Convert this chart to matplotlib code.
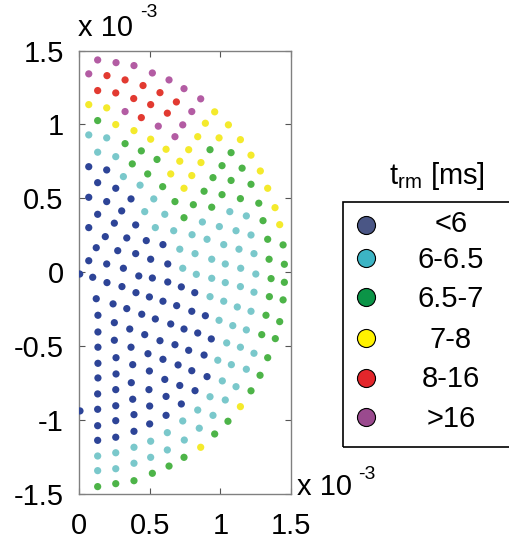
import matplotlib
matplotlib.use("Agg")
import matplotlib.pyplot as plt
from matplotlib.lines import Line2D
from matplotlib.patches import Rectangle

plt.rcParams['font.family'] = ['Liberation Sans', 'DejaVu Sans']
plt.rcParams['mathtext.fontset'] = 'custom'
plt.rcParams['mathtext.rm'] = 'Liberation Sans'
plt.rcParams['mathtext.it'] = 'Liberation Sans'

# reverberation-time classes
categories = ['<6', '6-6.5', '6.5-7', '7-8', '8-16', '>16']

# receiver positions (units of 1e-3), grouped by t_rm class
x_lt6 = [0.069, 0.196, 0.132, 0.260, 0.069, 0.196, 0.368, 0.132, 0.302, 0.069, 0.250, 0.401,
         0.186, 0.338, 0.476, 0.122, 0.274, 0.401, 0.507, 0.069, 0.196, 0.314, 0.005, 0.097,
         0.423, 0.519,
         0.594, 0.628, 0.628, 0.724, 0.819,
         0.198, 0.304, 0.122, 0.241, 0.403, 0.498, 0.338, 0.444, 0.540, 0.134, 0.250, 0.359,
         0.465, 0.134, 0.250, 0.368, 0.488, 0.134, 0.262, 0.380, 0.498, 0.134, 0.262, 0.134,
         0.594, 0.691, 0.798, 0.894, 0.649, 0.743, 0.840, 0.936, 0.573, 0.679, 0.776, 0.885,
         0.594, 0.701, 0.798, 0.906, 0.607, 0.713, 0.821, 0.616,
         0.724, 0.616,
         0.370, 0.260, 0.495, 0.132, 0.380, 0.007, 0.132, 0.260, 0.500, 0.389, 0.132, 0.260,
         0.500, 0.389, 0.132, 0.260]
y_lt6 = [0.714, 0.692, 0.606, 0.568, 0.507, 0.478, 0.496, 0.392, 0.415, 0.302, 0.332, 0.320,
         0.241, 0.232, 0.214, 0.166, 0.146, 0.126, 0.088, 0.078, 0.056, 0.027, -0.012, -0.034,
         -0.025, -0.039,
         0.187, 0.056, -0.066, -0.099, -0.138,
         -0.070, -0.097, -0.179, -0.214, -0.138, -0.167, -0.246, -0.284, -0.316, -0.291, -0.341, -0.384,
         -0.422, -0.404, -0.460, -0.507, -0.551, -0.507, -0.578, -0.625, -0.668, -0.616, -0.688, -0.715,
         -0.196, -0.226, -0.264, -0.294, -0.350, -0.384, -0.411, -0.451, -0.463, -0.490, -0.528, -0.560,
         -0.589, -0.627, -0.666, -0.706, -0.725, -0.766, -0.801, -0.840,
         -0.891, -0.968,
         -0.747, -0.794, -0.794, -0.823, -0.859, -0.938, -0.927, -0.903, -0.905, -0.963, -1.038, -1.004,
         -1.026, -1.076, -1.137, -1.116]

x_6_65 = [0.069, 0.196, 0.132, 0.260, 0.314, 0.432, 0.529, 0.465, 0.540, 0.607, 0.873, 1.067,
          1.184, 0.670, 0.800, 0.993, 1.111, 1.217, 0.713, 0.906, 1.024, 1.132, 1.238, 0.821,
          0.939, 0.734, 1.035, 1.144, 1.251, 0.830, 0.939, 1.035, 1.142, 0.927, 1.238, 1.024,
          1.120, 0.991, 1.088, 1.217, 1.045, 1.184, 0.982, 1.142, 1.238, 1.078, 1.184, 1.014,
          1.111, 0.927, 1.035, 0.840, 0.948, 0.734, 0.851, 0.625, 0.745, 0.625,
          0.507, 0.389, 0.132, 0.260, 0.507, 0.389, 0.132, 0.260]
y_6_65 = [0.929, 0.909, 0.812, 0.782, 0.647, 0.589, 0.496, 0.410, 0.302, 0.392, 0.340, 0.410,
          0.381, 0.281, 0.254, 0.309, 0.281, 0.252, 0.156, 0.223, 0.187, 0.156, 0.126, 0.126,
          0.088, 0.027, 0.056, 0.027, -0.012, -0.014, -0.041, -0.070, -0.097, -0.165, -0.135, -0.196,
          -0.235, -0.325, -0.361, -0.264, -0.478, -0.390, -0.595, -0.507, -0.548, -0.625, -0.656, -0.735,
          -0.774, -0.842, -0.864, -0.932, -0.968, -1.006, -1.055, -1.085, -1.135, -1.202,
          -1.143, -1.184, -1.243, -1.221, -1.252, -1.292, -1.342, -1.329]

x_65_7 = [0.132, 0.326, 0.441, 0.552, 0.927, 1.076, 1.012, 1.154, 0.948, 1.076, 0.592, 0.885,
          1.012, 1.217, 0.679, 0.809, 0.939, 1.142, 1.272, 0.743, 1.302, 1.335, 1.444, 1.345,
          1.453, 1.359, 1.453, 1.347, 1.444, 1.323, 1.420, 1.293, 1.389, 1.335, 1.281, 1.217,
          1.054, 0.960, 0.743, 0.637, 0.519, 0.389, 0.260, 0.132, 0.377, 0.486]
y_65_7 = [1.026, 0.870, 0.821, 0.763, 0.829, 0.809, 0.721, 0.704, 0.640, 0.621, 0.579, 0.548,
          0.525, 0.595, 0.478, 0.457, 0.440, 0.498, 0.467, 0.369, 0.349, 0.223, 0.185, 0.088,
          0.054, -0.043, -0.068, -0.165, -0.187, -0.291, -0.334, -0.422, -0.449, -0.578, -0.697, -0.802,
          -1.008, -1.094, -1.252, -1.311, -1.360, -1.410, -1.430, -1.450, 0.733, 0.665]

x_7_8 = [0.069, 0.196, 0.260, 0.389, 0.507, 0.616, 0.960, 0.894, 1.057, 0.840, 0.991, 1.142,
         0.776, 1.217, 0.713, 0.863, 1.283, 0.649, 0.798, 0.743, 1.335, 1.387, 1.420, 1.142,
         0.861]
y_7_8 = [1.134, 1.112, 0.999, 0.958, 0.900, 0.832, 1.085, 1.008, 0.997, 0.917, 0.909, 0.897,
         0.829, 0.792, 0.751, 0.742, 0.685, 0.665, 0.654, 0.568, 0.568, 0.437, 0.322, -0.909,
         -1.184]

x_8_16 = [0.198, 0.326, 0.453, 0.573, 0.689, 0.132, 0.260, 0.387, 0.507, 0.625, 0.441]
y_8_16 = [1.330, 1.301, 1.263, 1.215, 1.152, 1.229, 1.213, 1.175, 1.134, 1.076, 1.046]

x_gt16 = [0.132, 0.262, 0.389, 0.519, 0.637, 0.069, 0.326, 0.561, 0.679, 0.743, 0.861, 0.798,
          0.734]
y_gt16 = [1.436, 1.418, 1.398, 1.348, 1.301, 1.342, 1.087, 0.988, 0.917, 1.242, 1.173, 1.087,
          0.997]

xs = [x_lt6, x_6_65, x_65_7, x_7_8, x_8_16, x_gt16]
ys = [y_lt6, y_6_65, y_65_7, y_7_8, y_8_16, y_gt16]
point_colors = ['#2d4497', '#7ac8cb', '#4db448', '#f4ea2c', '#e23a31', '#b35ca3']
key_colors = ['#4a5685', '#3cb4c4', '#0b9447', '#fff200', '#e3262b', '#9a4a8e']

FS = 21
fig = plt.figure(figsize=(5.1, 5.4), dpi=100)
W, H = 510.0, 540.0
ax = fig.add_axes([79 / W, 46 / H, 212 / W, 443.5 / H])

for xv, yv, c in zip(xs, ys, point_colors):
    ax.scatter(xv, yv, s=27, color=c, edgecolors='none', zorder=3)

ax.set_xlim(0, 1.5)
ax.set_ylim(-1.5, 1.5)
ax.set_xticks([0, 0.5, 1, 1.5])
ax.set_xticklabels(['0', '0.5', '1', '1.5'])
ax.set_yticks([-1.5, -1, -0.5, 0, 0.5, 1, 1.5])
ax.set_yticklabels(['-1.5', '-1', '-0.5', '0', '0.5', '1', '1.5'])
ax.tick_params(direction='in', length=4, width=0.8, color='#555555',
               top=True, right=True, labelsize=FS)
ax.tick_params(axis='x', pad=13)
ax.tick_params(axis='y', pad=11)
for sp in ax.spines.values():
    sp.set_color('#808080')
    sp.set_linewidth(1.0)

# exponent labels
fig.text(78 / W, 1 - 36 / H, 'x 10', fontsize=FS, va='baseline', ha='left')
fig.text(140 / W, 1 - 17 / H, '-3', fontsize=14, va='baseline', ha='left')
fig.text(297 / W, 1 - 495 / H, 'x 10', fontsize=FS, va='baseline', ha='left')
fig.text(358 / W, 1 - 479 / H, '-3', fontsize=14, va='baseline', ha='left')

# key for the t_rm classes
fig.text(437 / W, 1 - 184 / H, r'$\mathregular{t_{rm}}$ [ms]', fontsize=FS,
         ha='center', va='baseline')
fig.add_artist(Rectangle((343 / W, 1 - 446.5 / H), 170 / W, 245 / H,
                         transform=fig.transFigure, facecolor='none',
                         edgecolor='black', linewidth=1.2, clip_on=False))
marker_y = [225, 258, 297, 338, 378, 417]
label_y = [224, 260, 299, 340, 379, 419]
for lab, c, my, ly in zip(categories, key_colors, marker_y, label_y):
    fig.add_artist(Line2D([366.5 / W], [1 - my / H], marker='o', markersize=13,
                          markerfacecolor=c, markeredgecolor='black',
                          markeredgewidth=0.8, linestyle='none',
                          transform=fig.transFigure))
    fig.text(451 / W, 1 - ly / H, lab, fontsize=FS, ha='center', va='center')

fig.savefig('out.png', dpi=100)
